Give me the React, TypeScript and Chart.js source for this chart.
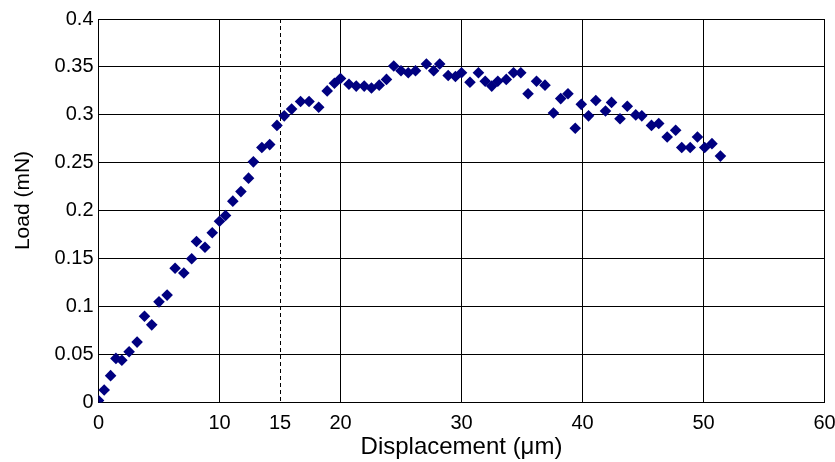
import React, { useEffect, useRef } from "react";
import { Chart, registerables } from "chart.js";

Chart.register(...registerables);

const displacement = [
  0, 0.47, 1.0, 1.44, 1.93, 2.53, 3.19, 3.8, 4.4, 5.0, 5.67, 6.33, 7.05, 7.7, 8.1, 8.8, 9.4, 10.0, 10.5, 11.1,
  11.77, 12.4, 12.8, 13.5, 14.15, 14.75, 15.35, 15.96, 16.7, 17.4, 18.2, 18.9, 19.5, 20.0, 20.7, 21.3, 21.96,
  22.56, 23.2, 23.8, 24.4, 25.0, 25.6, 26.2, 27.1, 27.7, 28.2, 28.9, 29.5, 30.0, 30.7, 31.4, 31.96, 32.5, 33.0,
  33.7, 34.3, 34.9, 35.5, 36.2, 36.9, 37.6, 38.2, 38.8, 39.4, 39.9, 40.5, 41.1, 41.9, 42.4, 43.1, 43.7, 44.4,
  44.9, 45.7, 46.3, 47.0, 47.7, 48.2, 48.9, 49.5, 50.1, 50.7, 51.4,
];

const load = [
  0.002, 0.013, 0.028, 0.046, 0.044, 0.053, 0.063, 0.09, 0.081, 0.105, 0.112, 0.14, 0.135, 0.15, 0.168, 0.162,
  0.177, 0.189, 0.195, 0.21, 0.22, 0.234, 0.251, 0.266, 0.269, 0.289, 0.299, 0.306, 0.314, 0.314, 0.308, 0.325,
  0.333, 0.338, 0.332, 0.33, 0.33, 0.328, 0.331, 0.337, 0.351, 0.346, 0.344, 0.346, 0.353, 0.346, 0.353, 0.341,
  0.34, 0.344, 0.334, 0.344, 0.335, 0.33, 0.335, 0.337, 0.344, 0.344, 0.322, 0.335, 0.331, 0.302, 0.317, 0.322,
  0.286, 0.311, 0.299, 0.315, 0.304, 0.313, 0.296, 0.309, 0.3, 0.299, 0.289, 0.291, 0.277, 0.284, 0.266, 0.266,
  0.277, 0.266, 0.27, 0.257,
];

const xTicks = [0, 10, 15, 20, 30, 40, 50, 60];
const yTicks = [0, 0.05, 0.1, 0.15, 0.2, 0.25, 0.3, 0.35, 0.4];
const dashedX = 15;
const yTitle = "Load (mN)";
const xTitle = "Displacement (μm)";

const FONT = "'Liberation Sans', Arial, Helvetica, sans-serif";

const yTitlePlugin = {
  id: "yTitle",
  afterDraw(chart: any) {
    const ctx = chart.ctx;
    ctx.save();
    ctx.translate(23, 200.5);
    ctx.rotate(-Math.PI / 2);
    ctx.fillStyle = "#000";
    ctx.font = `21px ${FONT}`;
    ctx.textAlign = "center";
    ctx.textBaseline = "middle";
    ctx.fillText(yTitle, 0, 0);
    ctx.restore();
  },
};

export default function App() {
  const ref = useRef<HTMLCanvasElement | null>(null);

  useEffect(() => {
    if (!ref.current) return;
    const chart = new Chart(ref.current, {
      type: "scatter",
      data: {
        datasets: [
          {
            label: "Load",
            data: displacement.map((x, i) => ({ x, y: load[i] })),
            pointStyle: "rectRot",
            pointRadius: 5.8,
            pointBackgroundColor: "#000080",
            pointBorderColor: "#000080",
            pointBorderWidth: 0,
          },
        ],
      },
      plugins: [yTitlePlugin],
      options: {
        animation: false,
        responsive: false,
        layout: { padding: { top: 19, right: 10.5, left: 0, bottom: 0 } },
        plugins: { legend: { display: false }, tooltip: { enabled: false } },
        scales: {
          x: {
            type: "linear",
            min: 0,
            max: 60,
            afterBuildTicks: (s: any) => {
              s.ticks = xTicks.map((v) => ({ value: v }));
            },
            afterFit: (s: any) => {
              s.height = 59.5;
              s.paddingLeft = 0;
              s.paddingRight = 0;
            },
            grid: {
              color: "#000",
              lineWidth: 1,
              drawTicks: false,
            },
            border: {
              display: true,
              color: "#000",
              width: 1,
              dash: (ctx: any) => (ctx.tick && ctx.tick.value === dashedX ? [4, 3] : []),
            },
            ticks: {
              padding: 9,
              color: "#000",
              font: { family: FONT, size: 20 },
              maxRotation: 0,
              autoSkip: false,
              callback: (v: any) => String(v),
            },
            title: {
              display: true,
              text: xTitle,
              color: "#000",
              font: { family: FONT, size: 24 },
              padding: { top: 0, bottom: 0 },
            },
          },
          y: {
            type: "linear",
            min: 0,
            max: 0.4,
            afterBuildTicks: (s: any) => {
              s.ticks = yTicks.map((v) => ({ value: v }));
            },
            afterFit: (s: any) => {
              s.width = 98.5;
              s.paddingTop = 0;
              s.paddingBottom = 0;
            },
            grid: { color: "#000", lineWidth: 1, drawTicks: false },
            border: { display: true, color: "#000", width: 1 },
            ticks: {
              padding: 5,
              color: "#000",
              font: { family: FONT, size: 20 },
              autoSkip: false,
              callback: (v: any) => String(parseFloat(Number(v).toFixed(2))),
            },
            title: { display: false },
          },
        },
      },
    });
    return () => chart.destroy();
  }, []);

  return (
    <div style={{ position: "fixed", left: 0, top: 0, width: 835, height: 462, background: "#fff" }}>
      <canvas ref={ref} width={835} height={462} />
    </div>
  );
}
